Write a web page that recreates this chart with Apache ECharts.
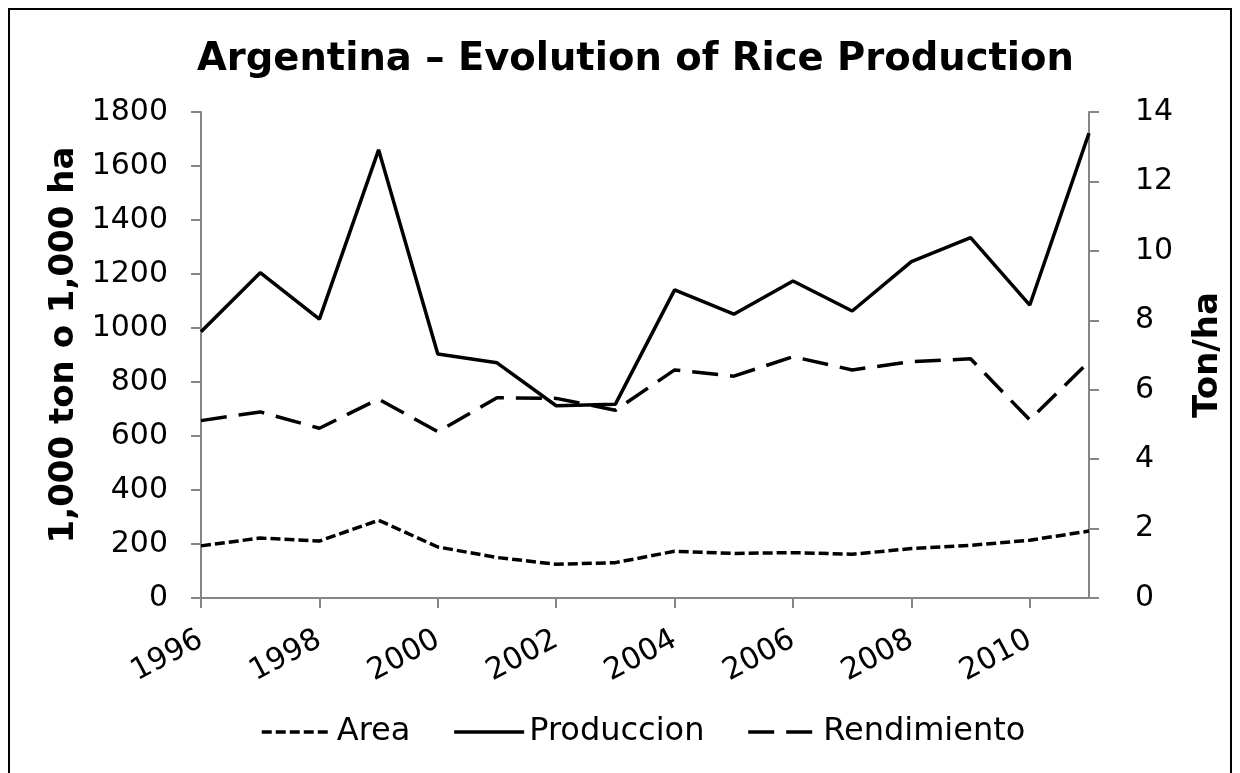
<!DOCTYPE html>
<html>
<head>
<meta charset="utf-8">
<script src="https://cdn.jsdelivr.net/npm/echarts@6/dist/echarts.min.js"></script>
<style>
  html, body { margin: 0; padding: 0; background: #fff; }
  #frame {
    position: absolute; left: 8px; top: 8px; width: 1224px; height: 780px;
    border: 2px solid #000; box-sizing: border-box;
  }
  #chart { position: absolute; left: 0; top: 0; width: 1240px; height: 773px; }
</style>
</head>
<body>
<div id="frame"></div>
<div id="chart"></div>
<script>
// años
const years = ['1996', '1997', '1998', '1999', '2000', '2001', '2002', '2003',
  '2004', '2005', '2006', '2007', '2008', '2009', '2010', '2011'];
// 1,000 ha
const area = [193, 222, 211, 288, 189, 150, 125, 131, 173, 165, 168, 162, 183, 195, 214, 248];
// 1,000 ton
const produccion = [986, 1205, 1033, 1660, 904, 871, 712, 718, 1141, 1051, 1174, 1063, 1246, 1335, 1085, 1722];
// ton/ha (eje derecho)
const rendimiento = [5.11, 5.36, 4.89, 5.73, 4.79, 5.77, 5.75, 5.41, 6.57, 6.39, 6.95, 6.57, 6.81, 6.89, 5.13, 6.81];

const font = 'Verdana, "DejaVu Sans", sans-serif';
const axisGray = '#868686';

let chart = echarts.init(document.getElementById('chart'));
chart.setOption({
  animation: false,
  title: {
    text: 'Argentina \u2013 Evolution of Rice Production',
    left: 192,
    top: 35,
    textStyle: { fontFamily: font, fontSize: 38.5, fontWeight: 'bold', color: '#000' }
  },
  legend: {
    bottom: 20,
    left: 255,
    itemWidth: 70,
    itemHeight: 14,
    itemGap: 42,
    itemStyle: { opacity: 0 },
    lineStyle: { width: 3.5 },
    textStyle: { fontFamily: font, fontSize: 32, color: '#000' },
    data: ['Area', 'Produccion', 'Rendimiento']
  },
  grid: { left: 201, right: 151, top: 112, bottom: 175 },
  xAxis: {
    type: 'category',
    boundaryGap: false,
    data: years,
    axisLine: { lineStyle: { color: axisGray, width: 2 } },
    axisTick: { interval: 1, length: 10, lineStyle: { color: axisGray, width: 2 } },
    axisLabel: {
      interval: 1, rotate: 28, margin: 40,
      fontFamily: font, fontSize: 30, color: '#000'
    }
  },
  yAxis: [
    {
      type: 'value', min: 0, max: 1800, interval: 200,
      name: '1,000 ton o 1,000 ha',
      nameLocation: 'middle', nameGap: 109,
      nameTextStyle: {
        fontFamily: font, fontSize: 34, fontWeight: 'bold', color: '#000',
        padding: [0, 0, 0, 20]
      },
      axisLine: { show: true, lineStyle: { color: axisGray, width: 2 } },
      axisTick: { show: true, length: 10, lineStyle: { color: axisGray, width: 2 } },
      axisLabel: {
        margin: 33, fontFamily: font, fontSize: 30, color: '#000',
        formatter: (v) => String(v)
      },
      splitLine: { show: false }
    },
    {
      type: 'value', min: 0, max: 14, interval: 2,
      name: 'Ton/ha',
      nameLocation: 'middle', nameGap: 102,
      nameTextStyle: { fontFamily: font, fontSize: 34, fontWeight: 'bold', color: '#000' },
      axisLine: { show: true, lineStyle: { color: axisGray, width: 2 } },
      axisTick: { show: true, length: 10, lineStyle: { color: axisGray, width: 2 } },
      axisLabel: { margin: 46, fontFamily: font, fontSize: 30, color: '#000' },
      splitLine: { show: false }
    }
  ],
  series: [
    {
      name: 'Area', type: 'line', data: area, symbol: 'none',
      lineStyle: { color: '#000', width: 3.5, type: [10, 4] },
      itemStyle: { color: '#000' }
    },
    {
      name: 'Produccion', type: 'line', data: produccion, symbol: 'none',
      lineStyle: { color: '#000', width: 3.5, type: 'solid' },
      itemStyle: { color: '#000' }
    },
    {
      name: 'Rendimiento', type: 'line', data: rendimiento, yAxisIndex: 1, symbol: 'none',
      lineStyle: { color: '#000', width: 3.5, type: [26, 12] },
      itemStyle: { color: '#000' }
    }
  ]
});
</script>
</body>
</html>
